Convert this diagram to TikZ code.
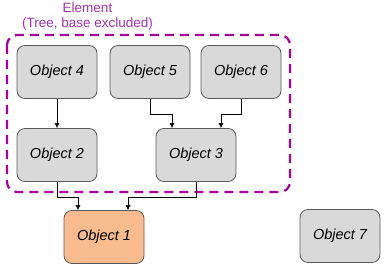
\documentclass[tikz,border=0pt]{standalone}
\usepackage{fontspec}
\setmainfont{Liberation Sans}
\usepackage{tikz}
\usetikzlibrary{arrows.meta}
\definecolor{objgray}{RGB}{217,217,217}
\definecolor{objedge}{RGB}{90,90,90}
\definecolor{baseorange}{RGB}{247,187,142}
\definecolor{elemline}{RGB}{170,0,155}
\definecolor{elemtext}{RGB}{165,50,180}
\tikzset{
    object/.style={draw=objedge, fill=objgray, rounded corners=8pt, line width=0.8pt,
        minimum width=80pt, minimum height=53pt, inner sep=0pt,
        font=\fontsize{14.5}{16}\selectfont\itshape},
    baseobject/.style={object, fill=baseorange},
    link/.style={-{Latex[length=5pt,width=5pt]}, line width=0.6pt},
    elementbox/.style={draw=elemline, dashed, dash pattern=on 9pt off 6pt,
        line width=2.2pt, rounded corners=10pt},
    elementlabel/.style={align=center, text=elemtext, font=\fontsize{13.5}{15}\selectfont}
}
\begin{document}
\begin{tikzpicture}[x=1pt, y=-1pt]
    \useasboundingbox (0,0) rectangle (386,270);

    % element (tree, base excluded)
    \draw[elementbox] (7,35) rectangle (290,192);
    \node[elementlabel] (elem) at (87.5,17) {Element\\(Tree, base excluded)};

    % top row
    \node[object] (o4) at (57,72)  {Object 4};
    \node[object] (o5) at (150,72) {Object 5};
    \node[object] (o6) at (241,72) {Object 6};

    % middle row
    \node[object] (o2) at (57,155)  {Object 2};
    \node[object] (o3) at (196,155) {Object 3};

    % base and single object
    \node[baseobject] (o1) at (104,237) {Object 1};
    \node[object] (o7) at (340,236) {Object 7};

    % links
    \draw[link] (o4) -- (o2);
    \draw[link] (o5.south) -- ++(0,15) -| ([xshift=-24pt]o3.north);
    \draw[link] (o6.south) -- ++(0,15) -| ([xshift=25pt]o3.north);
    \draw[link] (o2.south) -- ++(0,15) -| ([xshift=-26pt]o1.north);
    \draw[link] (o3.south) -- ++(0,15) -| ([xshift=24pt]o1.north);
\end{tikzpicture}
\end{document}
